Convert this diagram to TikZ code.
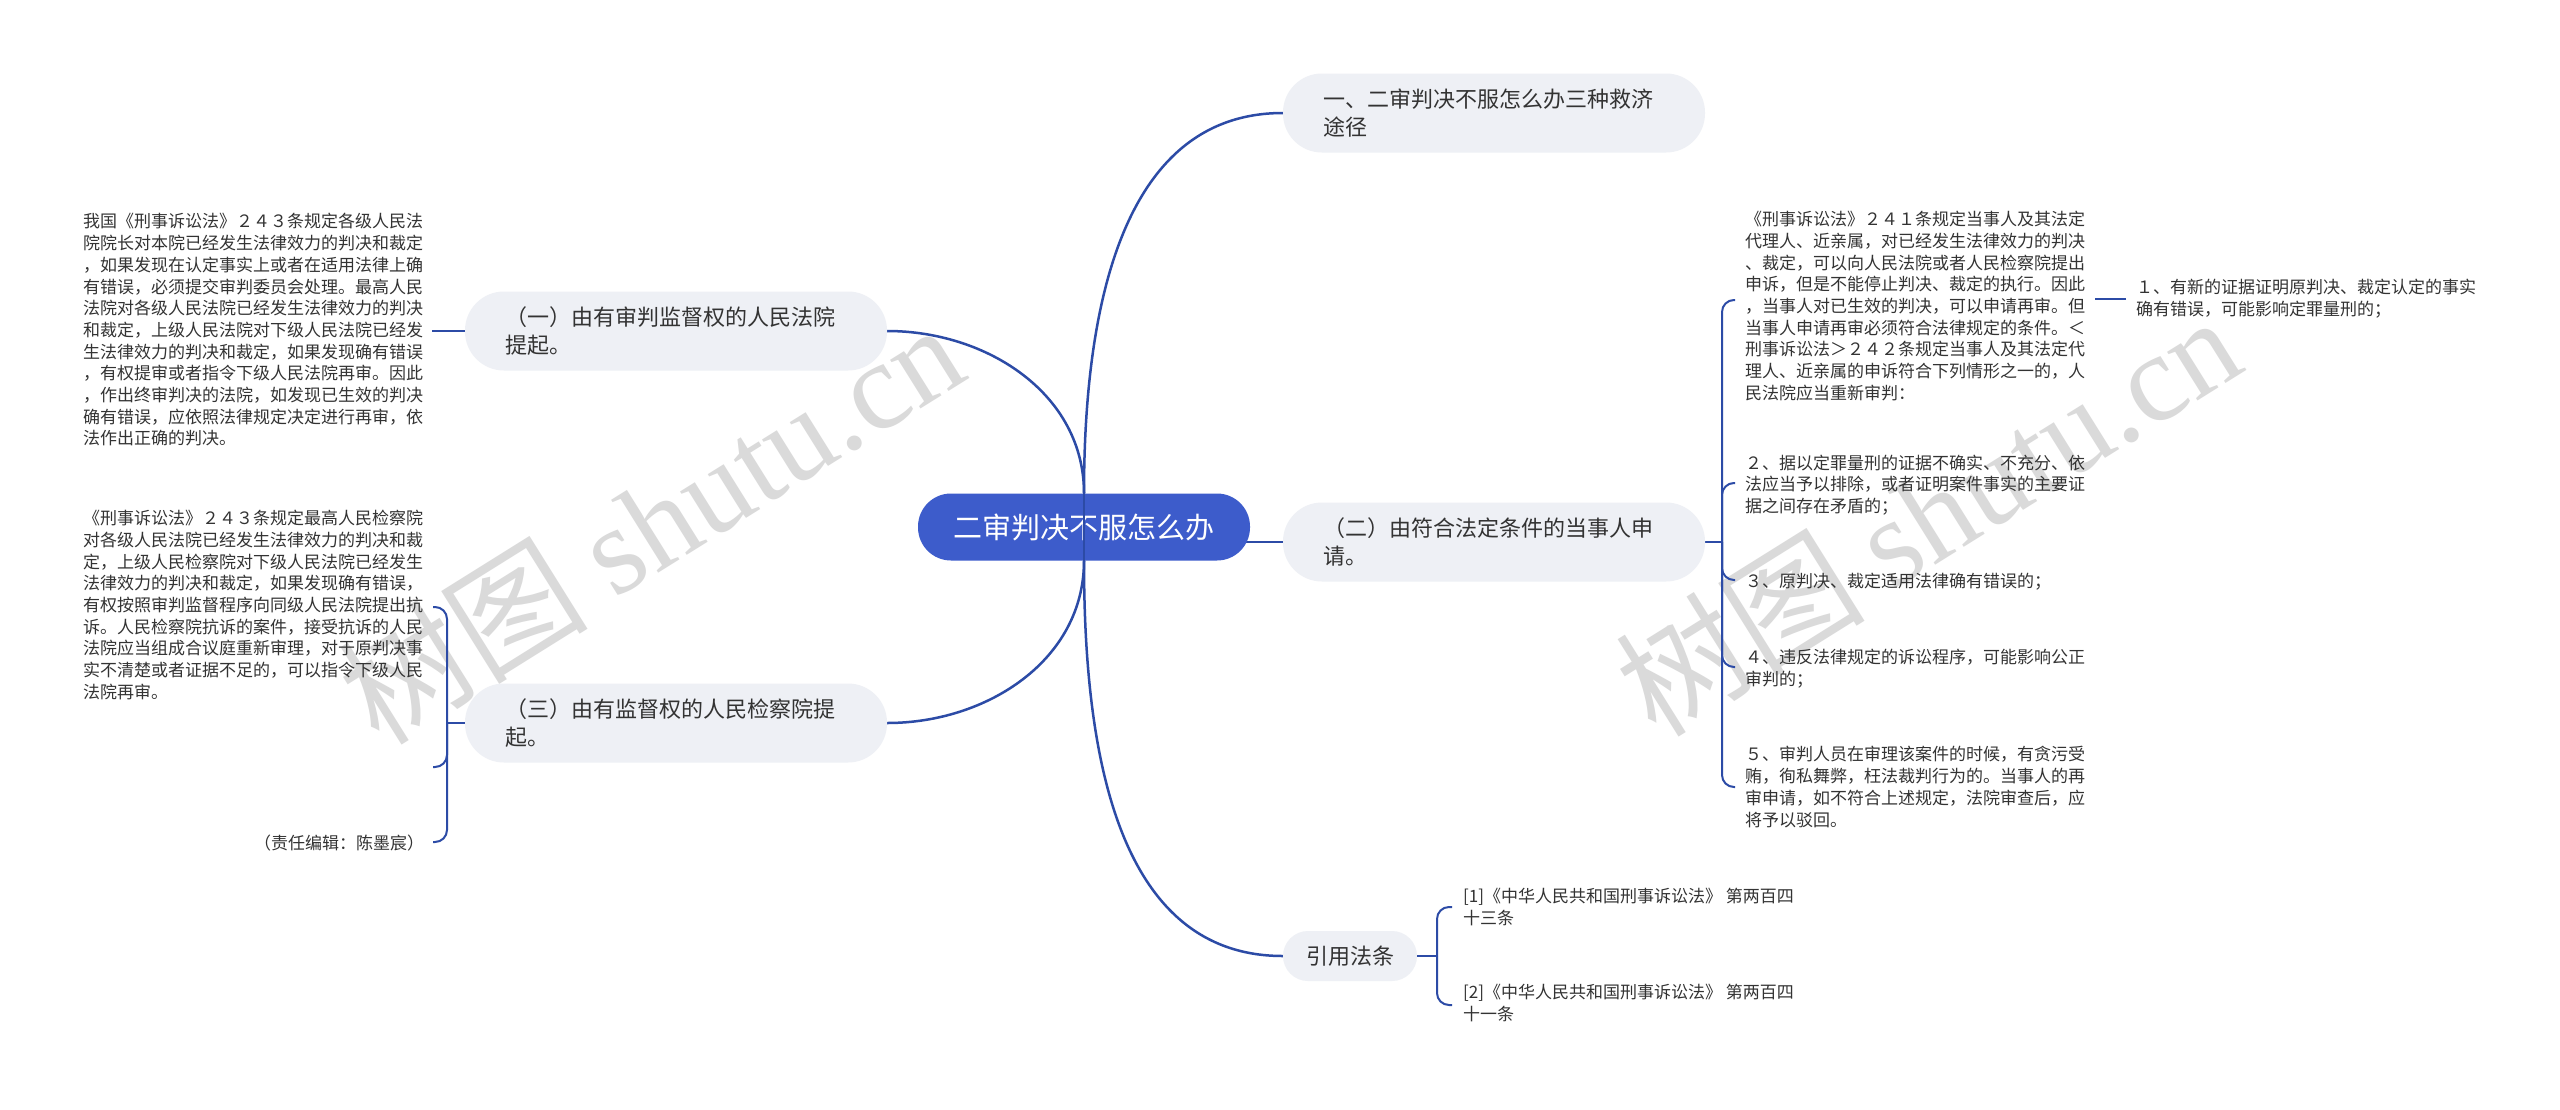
\documentclass[tikz,border=0pt]{standalone}
\usepackage{fontspec}
\setmainfont{Noto Sans CJK SC}
\newfontfamily\wmserif{Liberation Serif}
\usetikzlibrary{calc}
\pgfdeclarelayer{bglayer}
\pgfdeclarelayer{edgelayer}
\pgfsetlayers{bglayer,edgelayer,main}
\definecolor{rootblue}{HTML}{3D5CCB}
\definecolor{edgeblue}{HTML}{2C4BA6}
\definecolor{branchgray}{HTML}{EEF0F5}
\definecolor{txt}{HTML}{333333}
\definecolor{wmgray}{HTML}{DADADA}
\begin{document}
\begin{tikzpicture}[x=1pt,y=-1pt,
  rootnode/.style={fill=rootblue, text=white, rounded corners=33pt, minimum width=332pt, minimum height=67pt, inner sep=0pt, font=\fontsize{29}{34}\selectfont},
  branchnode/.style={fill=branchgray, text=txt, rounded corners=39pt, minimum height=79pt, text width=342pt, inner xsep=40pt, inner ysep=0pt, align=left, font=\fontsize{22}{27.5}\selectfont},
  citenode/.style={fill=branchgray, text=txt, rounded corners=25pt, minimum width=134pt, minimum height=50pt, inner sep=0pt, font=\fontsize{22}{26}\selectfont},
  leaftext/.style={anchor=west, inner sep=0pt, align=left, text=txt, font=\fontsize{17}{21.7}\selectfont},
  reftext/.style={anchor=west, inner sep=0pt, align=left, text=txt, font=\fontsize{17}{22.5}\selectfont},
  conn/.style={draw=edgeblue, line width=2.5pt},
  bracel/.style={draw=edgeblue, line width=2pt, rounded corners=12pt},
  wmark/.style={text=wmgray, rotate=32, inner sep=0pt, font=\fontsize{125}{130}\selectfont}
]
\useasboundingbox (0,0) rectangle (2560,1109);

% main nodes
\node[rootnode] (root) at (1084,527) {二审判决不服怎么办};
\node[branchnode] (b1) at (1494,113) {一、二审判决不服怎么办三种救济\\途径};
\node[branchnode] (b2) at (1494,542) {（二）由符合法定条件的当事人申\\请。};
\node[citenode] (cite) at (1350,956) {引用法条};
\node[branchnode] (L1) at (676,331) {（一）由有审判监督权的人民法院\\提起。};
\node[branchnode] (L3) at (676,723) {（三）由有监督权的人民检察院提\\起。};

% left leaves
\node[leaftext] (p1) at (83,330) {我国《刑事诉讼法》２４３条规定各级人民法\\
院院长对本院已经发生法律效力的判决和裁定\\
，如果发现在认定事实上或者在适用法律上确\\
有错误，必须提交审判委员会处理。最高人民\\
法院对各级人民法院已经发生法律效力的判决\\
和裁定，上级人民法院对下级人民法院已经发\\
生法律效力的判决和裁定，如果发现确有错误\\
，有权提审或者指令下级人民法院再审。因此\\
，作出终审判决的法院，如发现已生效的判决\\
确有错误，应依照法律规定决定进行再审，依\\
法作出正确的判决。};
\node[leaftext] (p3) at (83,605) {《刑事诉讼法》２４３条规定最高人民检察院\\
对各级人民法院已经发生法律效力的判决和裁\\
定，上级人民检察院对下级人民法院已经发生\\
法律效力的判决和裁定，如果发现确有错误，\\
有权按照审判监督程序向同级人民法院提出抗\\
诉。人民检察院抗诉的案件，接受抗诉的人民\\
法院应当组成合议庭重新审理，对于原判决事\\
实不清楚或者证据不足的，可以指令下级人民\\
法院再审。};
\node[leaftext] (ed) at (254,843) {（责任编辑：陈墨宸）};

% right leaves
\node[leaftext] (p241) at (1745,306) {《刑事诉讼法》２４１条规定当事人及其法定\\
代理人、近亲属，对已经发生法律效力的判决\\
、裁定，可以向人民法院或者人民检察院提出\\
申诉，但是不能停止判决、裁定的执行。因此\\
，当事人对已生效的判决，可以申请再审。但\\
当事人申请再审必须符合法律规定的条件。＜\\
刑事诉讼法＞２４２条规定当事人及其法定代\\
理人、近亲属的申诉符合下列情形之一的，人\\
民法院应当重新审判：};
\node[leaftext] (c1) at (2136,299) {１、有新的证据证明原判决、裁定认定的事实\\
确有错误，可能影响定罪量刑的；};
\node[leaftext] (c2) at (1745,485) {２、据以定罪量刑的证据不确实、不充分、依\\
法应当予以排除，或者证明案件事实的主要证\\
据之间存在矛盾的；};
\node[leaftext] (c3) at (1745,582) {３、原判决、裁定适用法律确有错误的；};
\node[leaftext] (c4) at (1745,669) {４、违反法律规定的诉讼程序，可能影响公正\\
审判的；};
\node[leaftext] (c5) at (1745,787) {５、审判人员在审理该案件的时候，有贪污受\\
贿，徇私舞弊，枉法裁判行为的。当事人的再\\
审申请，如不符合上述规定，法院审查后，应\\
将予以驳回。};

% references
\node[reftext] (r1) at (1463,907) {[1]《中华人民共和国刑事诉讼法》 第两百四\\十三条};
\node[reftext] (r2) at (1463,1003) {[2]《中华人民共和国刑事诉讼法》 第两百四\\十一条};

% background and watermarks
\begin{pgfonlayer}{bglayer}
\fill[white] (0,0) rectangle (2560,1109);
\node[wmark] (wm1) at (650,522) {树图 {\wmserif shutu.cn}};
\node[wmark] (wm2) at (1927,514) {树图 {\wmserif shutu.cn}};
\end{pgfonlayer}

\begin{pgfonlayer}{edgelayer}
% root connectors
\draw[conn] (root.north) to[out=90,in=180] (b1.west);
\draw[conn] ([xshift=-12pt]b2.west -| root.east) -- (b2.west);
\draw[conn] (root.south) to[out=-90,in=180] (cite.west);
\draw[conn] (root.north) to[out=90,in=0] (L1.east);
\draw[conn] (root.south) to[out=-90,in=0] (L3.east);

% brace connectors: right
\coordinate (jR) at (1722,542);
\coordinate (eR1) at (1735,300);
\coordinate (eR2) at (1735,483);
\coordinate (eR3) at (1735,580);
\coordinate (eR4) at (1735,667);
\coordinate (eR5) at (1735,787);
\draw[bracel] (b2.east) -- (jR);
\foreach \e in {eR1,eR2,eR3,eR4,eR5} \draw[bracel] (jR) |- (\e);

% brace connectors: left
\coordinate (jL) at (447,723);
\coordinate (eL1) at (433,607);
\coordinate (eL2) at (433,767);
\coordinate (eL3) at (433,842);
\draw[bracel] (L3.west) -- (jL);
\foreach \e in {eL1,eL2,eL3} \draw[bracel] (jL) |- (\e);

% brace connectors: citations
\coordinate (jC) at (1437,956);
\coordinate (eC1) at (1452,907);
\coordinate (eC2) at (1452,1005);
\draw[bracel] (cite.east) -- (jC);
\foreach \e in {eC1,eC2} \draw[bracel] (jC) |- (\e);

% straight connectors
\draw[bracel] (L1.west) -- ([xshift=9pt]L1.west -| p1.east);
\draw[bracel] ([xshift=-10pt]c1.west) -- ([xshift=10pt]c1.west -| p241.east);
\end{pgfonlayer}

% connector stems crossing the root node, as in the reference
\draw[edgeblue, line width=2pt] (root.north) -- (root.south);
\end{tikzpicture}
\end{document}
